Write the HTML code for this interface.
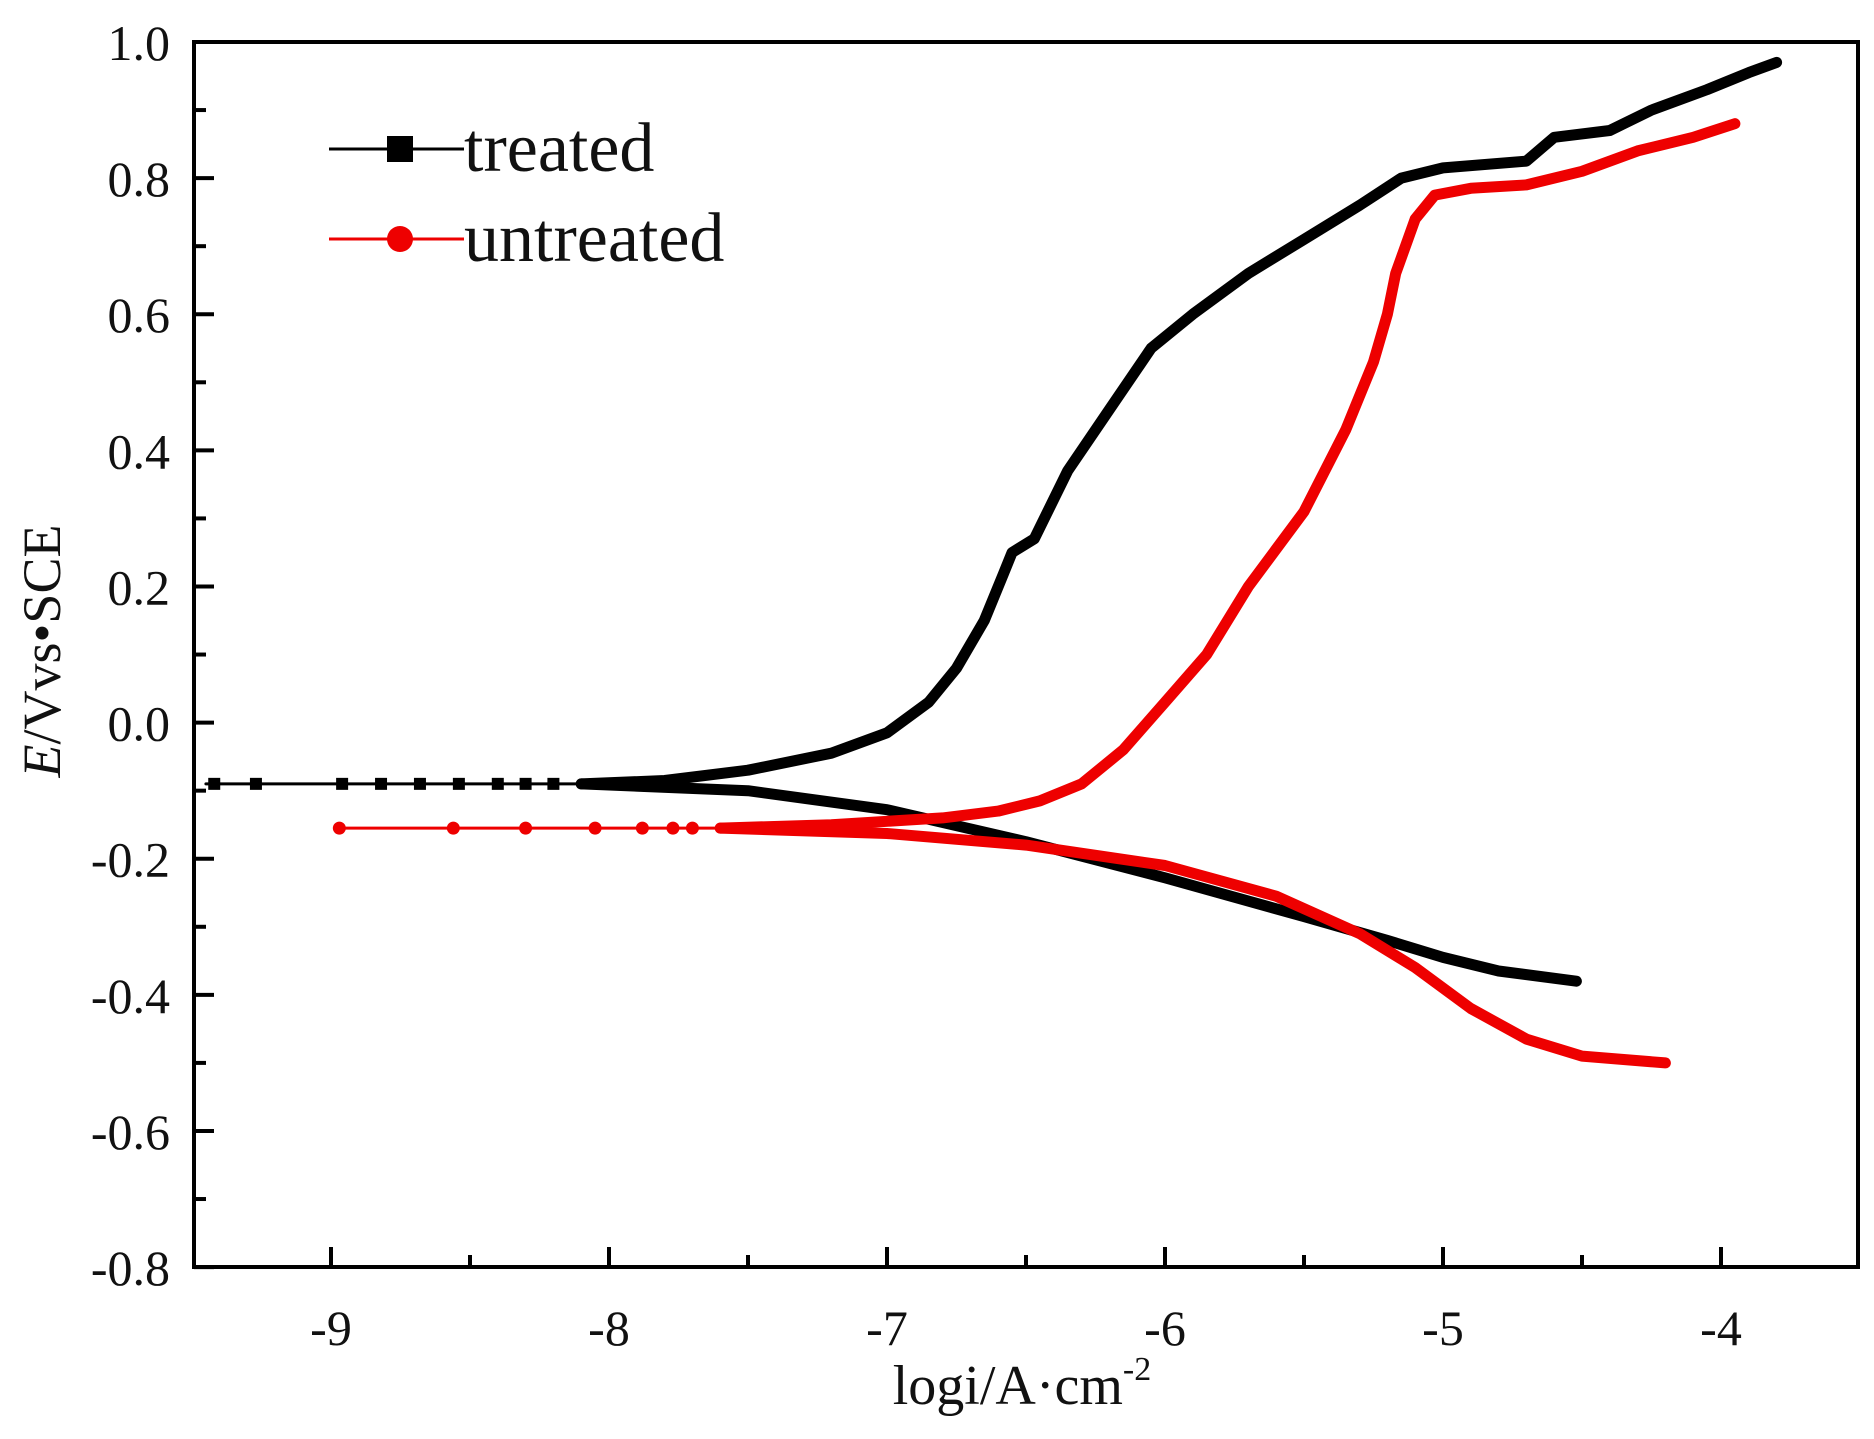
<!DOCTYPE html>
<html><head><meta charset="utf-8"><style>
body{margin:0;background:#fff}
svg text{font-family:"Liberation Serif",serif;fill:#111}
</style></head><body>
<svg id="s" width="1874" height="1434" xmlns="http://www.w3.org/2000/svg"></svg>
<script>
const s=document.getElementById('s');
const X=v=>331+(v+9)*278, Y=e=>42+(1-e)*680.6;
let h='';
h+=`<rect x="194" y="42" width="1664" height="1225" fill="none" stroke="#000" stroke-width="4"/>`;
for(let v=-9.5;v<=-3.5;v+=0.5){const x=X(v);if(x<196||x>1856)continue;const maj=Math.abs(v-Math.round(v))<1e-6;
h+=`<line x1="${x}" y1="1267" x2="${x}" y2="${1267-(maj?20:12)}" stroke="#000" stroke-width="4"/>`;
if(maj)h+=`<text x="${x}" y="1345" font-size="50" text-anchor="middle">${v}</text>`;}
for(let i=0;i<=18;i++){const e=1-i*0.1;const y=Y(e);const maj=i%2==0;
h+=`<line x1="194" y1="${y}" x2="${maj?214:206}" y2="${y}" stroke="#000" stroke-width="4"/>`;
if(maj)h+=`<text x="170" y="${y+18}" font-size="50" text-anchor="end">${(Math.abs(e)<1e-9?0:e).toFixed(1)}</text>`;}
h+=`<text transform="translate(60,651) rotate(-90)" font-size="54" text-anchor="middle"><tspan font-style="italic">E</tspan>/Vvs•SCE</text>`;
h+=`<text x="1022" y="1404" font-size="56" text-anchor="middle">logi/A·cm<tspan font-size="34" dy="-24">-2</tspan></text>`;
function path(pts,col,w){return `<polyline points="${pts.map(p=>X(p[0]).toFixed(1)+','+Y(p[1]).toFixed(1)).join(' ')}" fill="none" stroke="${col}" stroke-width="${w}" stroke-linejoin="round" stroke-linecap="round"/>`;}
const tc=[[-9.45,-0.09],[-8,-0.09]];
const tcd=[[-8.1,-0.09],[-7.5,-0.1],[-7,-0.128],[-6.5,-0.175],[-6,-0.228],[-5.5,-0.285],[-5.2,-0.32],[-5,-0.345],[-4.8,-0.365],[-4.52,-0.38]];
const ta=[[-8.1,-0.09],[-7.8,-0.085],[-7.5,-0.07],[-7.2,-0.045],[-7,-0.015],[-6.85,0.03],[-6.75,0.08],[-6.65,0.15],[-6.58,0.22],[-6.55,0.25],[-6.47,0.27],[-6.35,0.37],[-6.2,0.46],[-6.05,0.55],[-5.9,0.6],[-5.7,0.66],[-5.5,0.71],[-5.3,0.76],[-5.15,0.8],[-5,0.815],[-4.7,0.825],[-4.6,0.86],[-4.4,0.87],[-4.25,0.9],[-4.05,0.93],[-3.9,0.955],[-3.8,0.97]];
h+=path(tc,'#000',3)+path(tcd,'#000',11)+path(ta,'#000',11);
[-9.42,-9.27,-8.96,-8.82,-8.68,-8.54,-8.4,-8.3,-8.2].forEach(v=>h+=`<rect x="${X(v)-6}" y="${Y(-0.09)-6}" width="12" height="12" fill="#000"/>`);
const uc=[[-8.97,-0.155],[-7.5,-0.155]];
const ucd=[[-7.6,-0.155],[-7,-0.163],[-6.5,-0.18],[-6,-0.21],[-5.6,-0.255],[-5.3,-0.31],[-5.1,-0.36],[-4.9,-0.42],[-4.7,-0.465],[-4.5,-0.49],[-4.2,-0.5]];
const ua=[[-7.6,-0.155],[-7.2,-0.15],[-6.8,-0.14],[-6.6,-0.13],[-6.45,-0.115],[-6.3,-0.09],[-6.15,-0.04],[-6,0.03],[-5.85,0.1],[-5.7,0.2],[-5.5,0.31],[-5.35,0.43],[-5.25,0.53],[-5.2,0.6],[-5.17,0.66],[-5.1,0.74],[-5.03,0.775],[-4.9,0.785],[-4.7,0.79],[-4.5,0.81],[-4.3,0.84],[-4.1,0.86],[-3.95,0.88]];
h+=path(uc,'#e00',3)+path(ucd,'#e00',11)+path(ua,'#e00',11);
[-8.97,-8.56,-8.3,-8.05,-7.88,-7.77,-7.7].forEach(v=>h+=`<circle cx="${X(v)}" cy="${Y(-0.155)}" r="6.5" fill="#e00"/>`);
h+=`<line x1="329" y1="149" x2="464" y2="149" stroke="#000" stroke-width="3"/><rect x="387" y="136" width="26" height="26" fill="#000"/>`;
h+=`<text x="464" y="171" font-size="70">treated</text>`;
h+=`<line x1="329" y1="239" x2="464" y2="239" stroke="#e00" stroke-width="3"/><circle cx="400" cy="239" r="13" fill="#e00"/>`;
h+=`<text x="464" y="261" font-size="70">untreated</text>`;
s.innerHTML=h;
</script>
</body></html>
